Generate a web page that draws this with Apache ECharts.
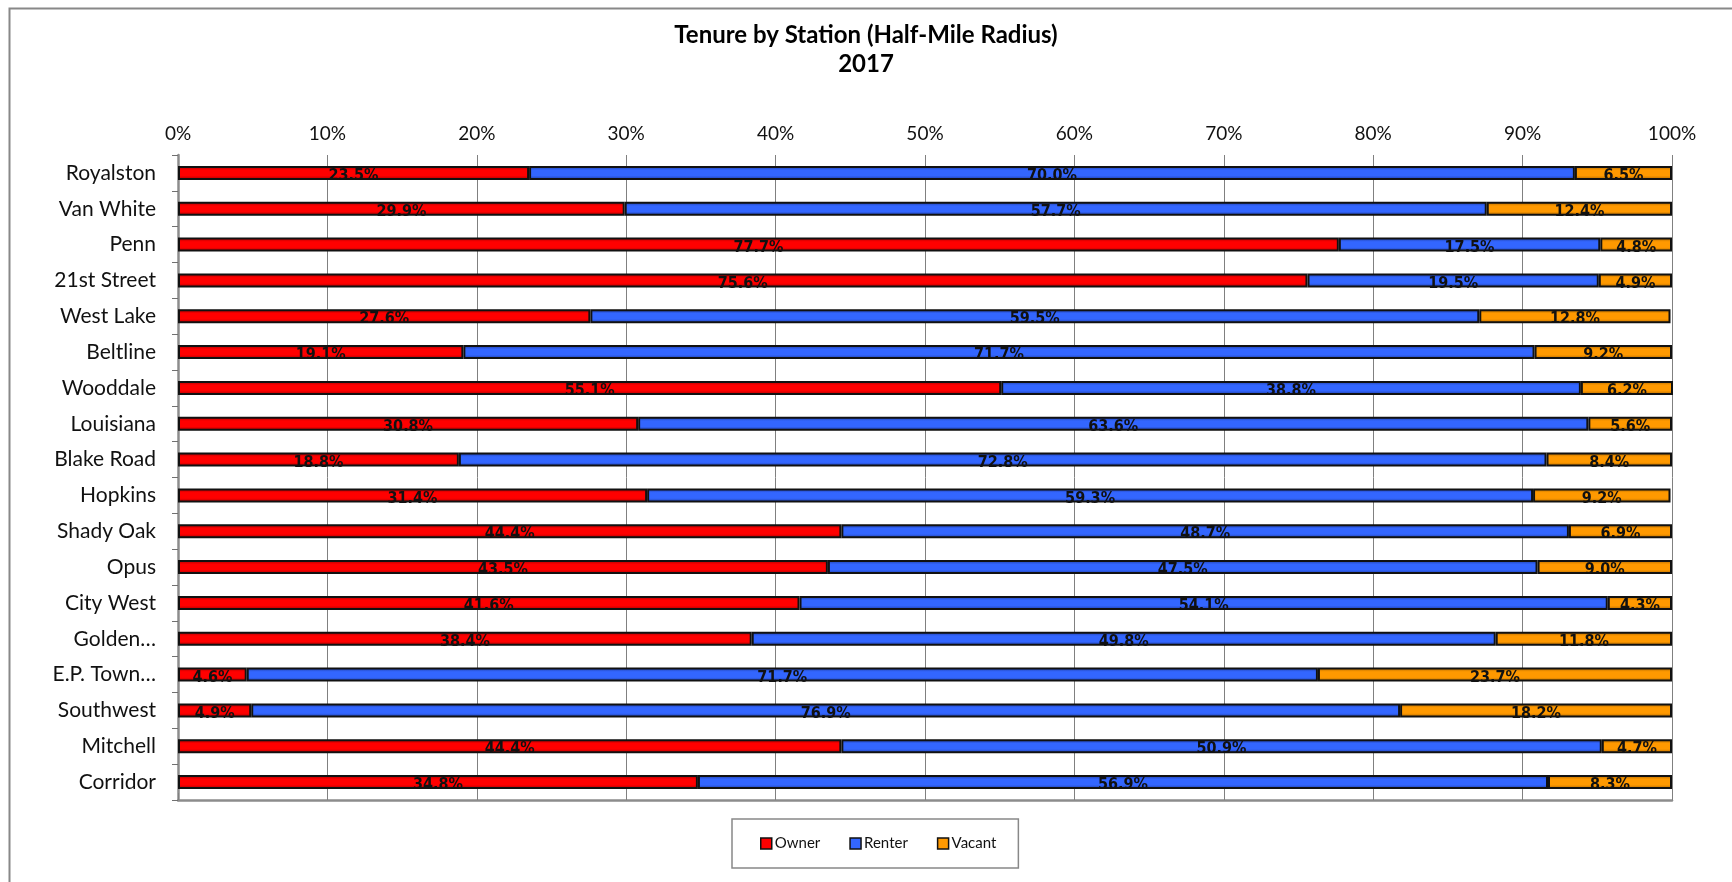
<!DOCTYPE html>
<html>
<head>
<meta charset="utf-8">
<title>Tenure by Station (Half-Mile Radius) 2017</title>
<script src="https://cdn.jsdelivr.net/npm/echarts@6/dist/echarts.min.js"></script>
<style>
  html, body { margin: 0; padding: 0; background: #ffffff; }
  #chart { width: 1732px; height: 882px; }
</style>
</head>
<body>
<div id="chart"></div>
<script>
// Station names, top to bottom
const stations = [
  'Royalston', 'Van White', 'Penn', '21st Street', 'West Lake', 'Beltline',
  'Wooddale', 'Louisiana', 'Blake Road', 'Hopkins', 'Shady Oak', 'Opus',
  'City West', 'Golden…', 'E.P. Town…', 'Southwest', 'Mitchell', 'Corridor'
];

// Share of housing units by tenure (%)
const owner = [23.5, 29.9, 77.7, 75.6, 27.6, 19.1, 55.1, 30.8, 18.8, 31.4, 44.4, 43.5, 41.6, 38.4, 4.6, 4.9, 44.4, 34.8];
const renter = [70.0, 57.7, 17.5, 19.5, 59.5, 71.7, 38.8, 63.6, 72.8, 59.3, 48.7, 47.5, 54.1, 49.8, 71.7, 76.9, 50.9, 56.9];
const vacant = [6.5, 12.4, 4.8, 4.9, 12.8, 9.2, 6.2, 5.6, 8.4, 9.2, 6.9, 9.0, 4.3, 11.8, 23.7, 18.2, 4.7, 8.3];

const seriesNames = ['Owner', 'Renter', 'Vacant'];

// Horizontal shading: darker edges, bright middle
function shade(dark, bright) {
  return new echarts.graphic.LinearGradient(0, 0, 0, 1, [
    { offset: 0, color: dark },
    { offset: 0.3, color: bright },
    { offset: 0.7, color: bright },
    { offset: 1, color: dark }
  ]);
}

const palette = [
  { flat: '#ff0000', dark: '#a00000', bright: '#ff0000' },
  { flat: '#3366ff', dark: '#1d3a9c', bright: '#3366ff' },
  { flat: '#ff9900', dark: '#a86400', bright: '#ff9900' }
];

const labelFont = "'Liberation Sans Narrow', 'DejaVu Sans Condensed', sans-serif";
const textFont = "Lato, 'Open Sans', sans-serif";

function makeSeries(name, values, idx) {
  return {
    name: name,
    type: 'bar',
    stack: 'tenure',
    data: values,
    barWidth: 14,
    itemStyle: {
      color: shade(palette[idx].dark, palette[idx].bright),
      borderColor: '#111111',
      borderWidth: 2
    },
    label: {
      show: true,
      position: 'inside',
      offset: [0, 3],
      color: '#111111',
      fontFamily: labelFont,
      fontWeight: 'bold',
      fontSize: 16,
      formatter: p => p.value.toFixed(1) + '%'
    },
    emphasis: { disabled: true }
  };
}

const chart = echarts.init(document.getElementById('chart'), null, { renderer: 'canvas' });

chart.setOption({
  animation: false,
  backgroundColor: '#ffffff',
  title: {
    text: 'Tenure by Station (Half-Mile Radius)\n2017',
    left: 'center',
    top: 16,
    textStyle: {
      fontFamily: textFont,
      fontWeight: 'bold',
      fontSize: 24,
      lineHeight: 29,
      color: '#000000'
    }
  },
  legend: {
    left: 732,
    top: 819,
    width: 286,
    padding: [17, 22, 17, 28],
    borderColor: '#888888',
    borderWidth: 1.5,
    itemGap: 29,
    itemWidth: 11,
    itemHeight: 11,
    icon: 'rect',
    textStyle: { fontFamily: textFont, fontSize: 15, color: '#111111', padding: [0, 0, 0, -2] },
    data: seriesNames.map((n, i) => ({
      name: n,
      itemStyle: { color: palette[i].flat, borderColor: '#111111', borderWidth: 1.5 }
    }))
  },
  grid: { left: 178, right: 60, top: 155, bottom: 82, containLabel: false },
  xAxis: [
    {
      type: 'value',
      position: 'top',
      min: 0,
      max: 100,
      interval: 10,
      axisLine: { show: false },
      axisTick: { show: true, inside: false, length: 7, lineStyle: { color: '#808080' } },
      axisLabel: {
        formatter: '{value}%',
        fontFamily: textFont,
        fontSize: 19,
        color: '#111111',
        margin: 12
      },
      splitLine: { show: true, lineStyle: { color: '#808080', width: 1 } }
    },
    {
      type: 'value',
      position: 'bottom',
      min: 0,
      max: 100,
      axisLine: { show: true, lineStyle: { color: '#8c8c8c', width: 2.5 } },
      axisTick: { show: false },
      axisLabel: { show: false },
      splitLine: { show: false }
    }
  ],
  yAxis: [
    {
      type: 'category',
      inverse: true,
      data: stations,
      axisLine: { show: true, lineStyle: { color: '#707070', width: 1 } },
      axisTick: { show: true, length: 6, lineStyle: { color: '#707070' } },
      axisLabel: {
        fontFamily: textFont,
        fontSize: 21,
        color: '#111111',
        margin: 22
      },
      splitLine: { show: false }
    },
    {
      type: 'value',
      position: 'right',
      min: 0,
      max: 1,
      axisLine: { show: true, lineStyle: { color: '#8c8c8c', width: 2.5 } },
      axisTick: { show: false },
      axisLabel: { show: false },
      splitLine: { show: false }
    }
  ],
  graphic: [
    {
      type: 'rect',
      left: 7,
      top: 6,
      shape: { width: 1800, height: 1000 },
      style: { fill: 'none', stroke: '#888888', lineWidth: 2 },
      silent: true
    }
  ],
  series: [
    makeSeries(seriesNames[0], owner, 0),
    makeSeries(seriesNames[1], renter, 1),
    makeSeries(seriesNames[2], vacant, 2)
  ]
});
</script>
</body>
</html>
